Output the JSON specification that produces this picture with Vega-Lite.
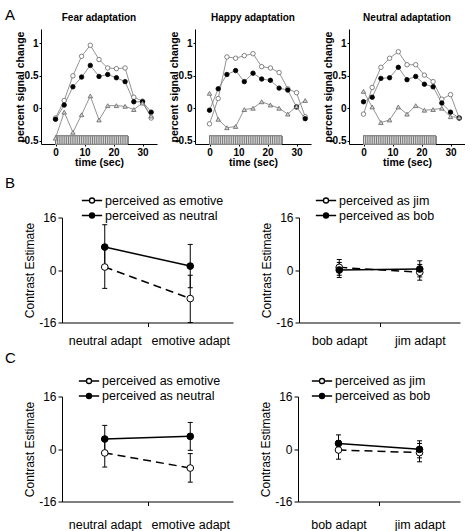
{
  "$schema": "https://vega.github.io/schema/vega-lite/v6.json",
  "padding": {"left": 5, "top": 8, "right": 0, "bottom": 0},
  "background": "white",
  "spacing": 7.5,
  "config": {
    "view": {"stroke": null},
    "font": "Liberation Sans",
    "axis": {"grid": false, "domainColor": "black", "tickColor": "black", "labelColor": "black", "titleColor": "black", "labelOverlap": false, "labelFlush": false},
    "legend": {"padding": 0},
    "title": {"color": "black"}
  },
  "resolve": {"scale": {"x": "independent", "y": "independent", "fill": "independent", "shape": "independent", "stroke": "independent"}, "legend": {"fill": "independent"}},
  "datasets": {
    "ts": [
      {"p": "Fear", "s": "open", "t": 0, "v": -0.15}, {"p": "Fear", "s": "open", "t": 3, "v": 0.12}, {"p": "Fear", "s": "open", "t": 6, "v": 0.5}, {"p": "Fear", "s": "open", "t": 9, "v": 0.8}, {"p": "Fear", "s": "open", "t": 12, "v": 0.97}, {"p": "Fear", "s": "open", "t": 15, "v": 0.75}, {"p": "Fear", "s": "open", "t": 18, "v": 0.62}, {"p": "Fear", "s": "open", "t": 21, "v": 0.61}, {"p": "Fear", "s": "open", "t": 24, "v": 0.62}, {"p": "Fear", "s": "open", "t": 27, "v": 0.17}, {"p": "Fear", "s": "open", "t": 30, "v": 0.11}, {"p": "Fear", "s": "open", "t": 33, "v": -0.15},
      {"p": "Fear", "s": "filled", "t": 0, "v": -0.17}, {"p": "Fear", "s": "filled", "t": 3, "v": 0.05}, {"p": "Fear", "s": "filled", "t": 6, "v": 0.33}, {"p": "Fear", "s": "filled", "t": 9, "v": 0.48}, {"p": "Fear", "s": "filled", "t": 12, "v": 0.66}, {"p": "Fear", "s": "filled", "t": 15, "v": 0.49}, {"p": "Fear", "s": "filled", "t": 18, "v": 0.52}, {"p": "Fear", "s": "filled", "t": 21, "v": 0.47}, {"p": "Fear", "s": "filled", "t": 24, "v": 0.41}, {"p": "Fear", "s": "filled", "t": 27, "v": 0.1}, {"p": "Fear", "s": "filled", "t": 30, "v": 0.1}, {"p": "Fear", "s": "filled", "t": 33, "v": -0.06},
      {"p": "Fear", "s": "tri", "t": 0, "v": -0.46}, {"p": "Fear", "s": "tri", "t": 3, "v": -0.06}, {"p": "Fear", "s": "tri", "t": 6, "v": -0.37}, {"p": "Fear", "s": "tri", "t": 9, "v": -0.1}, {"p": "Fear", "s": "tri", "t": 12, "v": 0.19}, {"p": "Fear", "s": "tri", "t": 15, "v": -0.18}, {"p": "Fear", "s": "tri", "t": 18, "v": 0.04}, {"p": "Fear", "s": "tri", "t": 21, "v": 0.04}, {"p": "Fear", "s": "tri", "t": 24, "v": 0.03}, {"p": "Fear", "s": "tri", "t": 27, "v": -0.02}, {"p": "Fear", "s": "tri", "t": 30, "v": 0.08}, {"p": "Fear", "s": "tri", "t": 33, "v": -0.12},
      {"p": "Happy", "s": "open", "t": 0, "v": -0.24}, {"p": "Happy", "s": "open", "t": 3, "v": 0.15}, {"p": "Happy", "s": "open", "t": 6, "v": 0.79}, {"p": "Happy", "s": "open", "t": 9, "v": 0.77}, {"p": "Happy", "s": "open", "t": 12, "v": 0.81}, {"p": "Happy", "s": "open", "t": 15, "v": 0.84}, {"p": "Happy", "s": "open", "t": 18, "v": 0.64}, {"p": "Happy", "s": "open", "t": 21, "v": 0.62}, {"p": "Happy", "s": "open", "t": 24, "v": 0.55}, {"p": "Happy", "s": "open", "t": 27, "v": 0.3}, {"p": "Happy", "s": "open", "t": 30, "v": 0.24}, {"p": "Happy", "s": "open", "t": 33, "v": -0.13},
      {"p": "Happy", "s": "filled", "t": 0, "v": -0.03}, {"p": "Happy", "s": "filled", "t": 3, "v": 0.3}, {"p": "Happy", "s": "filled", "t": 6, "v": 0.52}, {"p": "Happy", "s": "filled", "t": 9, "v": 0.58}, {"p": "Happy", "s": "filled", "t": 12, "v": 0.41}, {"p": "Happy", "s": "filled", "t": 15, "v": 0.54}, {"p": "Happy", "s": "filled", "t": 18, "v": 0.45}, {"p": "Happy", "s": "filled", "t": 21, "v": 0.43}, {"p": "Happy", "s": "filled", "t": 24, "v": 0.31}, {"p": "Happy", "s": "filled", "t": 27, "v": 0.28}, {"p": "Happy", "s": "filled", "t": 30, "v": 0.02}, {"p": "Happy", "s": "filled", "t": 33, "v": -0.16},
      {"p": "Happy", "s": "tri", "t": 0, "v": 0.23}, {"p": "Happy", "s": "tri", "t": 3, "v": -0.17}, {"p": "Happy", "s": "tri", "t": 6, "v": -0.3}, {"p": "Happy", "s": "tri", "t": 9, "v": -0.28}, {"p": "Happy", "s": "tri", "t": 12, "v": -0.02}, {"p": "Happy", "s": "tri", "t": 15, "v": 0.0}, {"p": "Happy", "s": "tri", "t": 18, "v": 0.1}, {"p": "Happy", "s": "tri", "t": 21, "v": 0.05}, {"p": "Happy", "s": "tri", "t": 24, "v": 0.0}, {"p": "Happy", "s": "tri", "t": 27, "v": -0.09}, {"p": "Happy", "s": "tri", "t": 30, "v": 0.03}, {"p": "Happy", "s": "tri", "t": 33, "v": 0.12},
      {"p": "Neutral", "s": "open", "t": 0, "v": -0.09}, {"p": "Neutral", "s": "open", "t": 3, "v": 0.32}, {"p": "Neutral", "s": "open", "t": 6, "v": 0.63}, {"p": "Neutral", "s": "open", "t": 9, "v": 0.77}, {"p": "Neutral", "s": "open", "t": 12, "v": 0.87}, {"p": "Neutral", "s": "open", "t": 15, "v": 0.67}, {"p": "Neutral", "s": "open", "t": 18, "v": 0.67}, {"p": "Neutral", "s": "open", "t": 21, "v": 0.51}, {"p": "Neutral", "s": "open", "t": 24, "v": 0.41}, {"p": "Neutral", "s": "open", "t": 27, "v": 0.14}, {"p": "Neutral", "s": "open", "t": 30, "v": 0.21}, {"p": "Neutral", "s": "open", "t": 33, "v": -0.15},
      {"p": "Neutral", "s": "filled", "t": 0, "v": 0.1}, {"p": "Neutral", "s": "filled", "t": 3, "v": 0.17}, {"p": "Neutral", "s": "filled", "t": 6, "v": 0.46}, {"p": "Neutral", "s": "filled", "t": 9, "v": 0.47}, {"p": "Neutral", "s": "filled", "t": 12, "v": 0.63}, {"p": "Neutral", "s": "filled", "t": 15, "v": 0.44}, {"p": "Neutral", "s": "filled", "t": 18, "v": 0.49}, {"p": "Neutral", "s": "filled", "t": 21, "v": 0.37}, {"p": "Neutral", "s": "filled", "t": 24, "v": 0.33}, {"p": "Neutral", "s": "filled", "t": 27, "v": 0.08}, {"p": "Neutral", "s": "filled", "t": 30, "v": -0.06}, {"p": "Neutral", "s": "filled", "t": 33, "v": -0.15},
      {"p": "Neutral", "s": "tri", "t": 0, "v": 0.26}, {"p": "Neutral", "s": "tri", "t": 3, "v": 0.02}, {"p": "Neutral", "s": "tri", "t": 6, "v": -0.22}, {"p": "Neutral", "s": "tri", "t": 9, "v": -0.18}, {"p": "Neutral", "s": "tri", "t": 12, "v": 0.02}, {"p": "Neutral", "s": "tri", "t": 15, "v": -0.09}, {"p": "Neutral", "s": "tri", "t": 18, "v": 0.04}, {"p": "Neutral", "s": "tri", "t": 21, "v": -0.03}, {"p": "Neutral", "s": "tri", "t": 24, "v": -0.02}, {"p": "Neutral", "s": "tri", "t": 27, "v": 0.0}, {"p": "Neutral", "s": "tri", "t": 30, "v": -0.13}, {"p": "Neutral", "s": "tri", "t": 33, "v": -0.14}
    ],
    "stim": [
      {"t": 0}, {"t": 0.75}, {"t": 1.5}, {"t": 2.25}, {"t": 3}, {"t": 3.75}, {"t": 4.5}, {"t": 5.25}, {"t": 6}, {"t": 6.75}, {"t": 7.5}, {"t": 8.25}, {"t": 9}, {"t": 9.75}, {"t": 10.5}, {"t": 11.25}, {"t": 12}, {"t": 12.75}, {"t": 13.5}, {"t": 14.25}, {"t": 15}, {"t": 15.75}, {"t": 16.5}, {"t": 17.25}, {"t": 18}, {"t": 18.75}, {"t": 19.5}, {"t": 20.25}, {"t": 21}, {"t": 21.75}, {"t": 22.5}, {"t": 23.25}, {"t": 24}, {"t": 24.75}
    ],
    "con": [
      {"p": "B1", "c": 1, "s": "perceived as emotive", "v": 0.9, "lo": -5.6, "hi": 7.4},
      {"p": "B1", "c": 2, "s": "perceived as emotive", "v": -8.7, "lo": -16, "hi": -1.6},
      {"p": "B1", "c": 1, "s": "perceived as neutral", "v": 7.0, "lo": 0.2, "hi": 13.8},
      {"p": "B1", "c": 2, "s": "perceived as neutral", "v": 1.2, "lo": -5.4, "hi": 7.8},
      {"p": "B2", "c": 1, "s": "perceived as jim", "v": 0.8, "lo": -1.6, "hi": 3.2},
      {"p": "B2", "c": 2, "s": "perceived as jim", "v": -0.7, "lo": -3.1, "hi": 1.7},
      {"p": "B2", "c": 1, "s": "perceived as bob", "v": 0.0, "lo": -2.3, "hi": 2.3},
      {"p": "B2", "c": 2, "s": "perceived as bob", "v": 0.3, "lo": -2.1, "hi": 2.8},
      {"p": "C1", "c": 1, "s": "perceived as emotive", "v": -1.2, "lo": -5.5, "hi": 3.1},
      {"p": "C1", "c": 2, "s": "perceived as emotive", "v": -5.8, "lo": -10.1, "hi": -1.4},
      {"p": "C1", "c": 1, "s": "perceived as neutral", "v": 3.05, "lo": -1.1, "hi": 7.2},
      {"p": "C1", "c": 2, "s": "perceived as neutral", "v": 3.85, "lo": -0.4, "hi": 8.1},
      {"p": "C2", "c": 1, "s": "perceived as jim", "v": -0.3, "lo": -3.1, "hi": 2.5},
      {"p": "C2", "c": 2, "s": "perceived as jim", "v": -1.1, "lo": -3.9, "hi": 1.7},
      {"p": "C2", "c": 1, "s": "perceived as bob", "v": 1.7, "lo": -0.9, "hi": 4.3},
      {"p": "C2", "c": 2, "s": "perceived as bob", "v": -0.1, "lo": -2.7, "hi": 2.5}
    ]
  },
  "vconcat": [
    {
      "title": {"text": "A", "anchor": "start", "frame": "group", "fontSize": 15, "fontWeight": "normal", "offset": -10, "dx": 0},
      "spacing": 0,
      "resolve": {"scale": {"x": "independent", "y": "independent", "fill": "independent", "shape": "independent", "stroke": "independent"}},
      "hconcat": [
        {"width": 10, "height": 1, "view": {"fill": "white", "stroke": null}, "data": {"values": []}, "mark": "point"},
        {
          "spacing": 12,
          "resolve": {"scale": {"x": "independent", "y": "independent", "fill": "independent", "shape": "independent", "stroke": "independent"}},
          "hconcat": [
            {
              "width": 116, "height": 115,
              "title": {"text": "Fear adaptation", "fontSize": 10, "fontWeight": "bold", "offset": 6},
              "resolve": {"axis": {"x": "independent", "y": "independent"}},
              "layer": [
                {"data": {"name": "stim"}, "mark": {"type": "rect", "fill": "#d8d8d8", "stroke": "#888", "strokeWidth": 0.5},
                 "encoding": {"x": {"datum": 0, "type": "quantitative", "scale": {"domain": [-5, 35], "nice": false}, "axis": null}, "x2": {"datum": 25},
                   "y": {"datum": -0.55, "type": "quantitative", "scale": {"domain": [-0.55, 1.22], "nice": false}, "axis": null}, "y2": {"datum": -0.43}}},
                {"data": {"name": "stim"}, "mark": {"type": "rule", "color": "#777", "strokeWidth": 1},
                 "encoding": {"x": {"field": "t", "type": "quantitative", "axis": null}, "y": {"datum": -0.55, "type": "quantitative", "axis": null}, "y2": {"datum": -0.43}}},
                {"data": {"name": "ts"}, "transform": [{"filter": "datum.p == 'Fear'"}],
                 "encoding": {
                   "x": {"field": "t", "type": "quantitative", "axis": {"values": [0, 10, 20, 30], "title": "time (sec)", "labelFontWeight": "bold", "labelFontSize": 10, "titleFontSize": 10.5, "titleFontWeight": "bold", "tickSize": 2, "labelPadding": 1, "titlePadding": 0}},
                   "y": {"field": "v", "type": "quantitative", "axis": {"values": [-0.5, 0, 0.5, 1], "labelExpr": "datum.value == 1 ? '1' : datum.value == 0.5 ? '0.5' : datum.value == 0 ? '0' : '-0.5'", "title": "percent signal change", "labelFontWeight": "bold", "labelFontSize": 10, "titleFontSize": 10.5, "titleFontWeight": "bold", "tickSize": 2, "labelPadding": 1, "titlePadding": 0, "minExtent": 16, "maxExtent": 16}}},
                 "layer": [
                   {"mark": {"type": "line", "color": "#777", "strokeWidth": 0.8}, "encoding": {"detail": {"field": "s"}}},
                   {"mark": {"type": "point", "filled": true, "size": 20, "strokeWidth": 0.8, "opacity": 1},
                    "encoding": {
                      "shape": {"field": "s", "scale": {"domain": ["open", "filled", "tri"], "range": ["circle", "circle", "triangle-up"]}, "legend": null},
                      "fill": {"field": "s", "scale": {"domain": ["open", "filled", "tri"], "range": ["white", "black", "#d0d0d0"]}, "legend": null},
                      "stroke": {"field": "s", "scale": {"domain": ["open", "filled", "tri"], "range": ["#666", "black", "#666"]}, "legend": null}}}
                 ]}
              ]
            },
            {
              "width": 116, "height": 115,
              "title": {"text": "Happy adaptation", "fontSize": 10, "fontWeight": "bold", "offset": 6},
              "resolve": {"axis": {"x": "independent", "y": "independent"}},
              "layer": [
                {"data": {"name": "stim"}, "mark": {"type": "rect", "fill": "#d8d8d8", "stroke": "#888", "strokeWidth": 0.5},
                 "encoding": {"x": {"datum": 0, "type": "quantitative", "scale": {"domain": [-5, 35], "nice": false}, "axis": null}, "x2": {"datum": 25},
                   "y": {"datum": -0.55, "type": "quantitative", "scale": {"domain": [-0.55, 1.22], "nice": false}, "axis": null}, "y2": {"datum": -0.43}}},
                {"data": {"name": "stim"}, "mark": {"type": "rule", "color": "#777", "strokeWidth": 1},
                 "encoding": {"x": {"field": "t", "type": "quantitative", "axis": null}, "y": {"datum": -0.55, "type": "quantitative", "axis": null}, "y2": {"datum": -0.43}}},
                {"data": {"name": "ts"}, "transform": [{"filter": "datum.p == 'Happy'"}],
                 "encoding": {
                   "x": {"field": "t", "type": "quantitative", "axis": {"values": [0, 10, 20, 30], "title": "time (sec)", "labelFontWeight": "bold", "labelFontSize": 10, "titleFontSize": 10.5, "titleFontWeight": "bold", "tickSize": 2, "labelPadding": 1, "titlePadding": 0}},
                   "y": {"field": "v", "type": "quantitative", "axis": {"values": [-0.5, 0, 0.5, 1], "labelExpr": "datum.value == 1 ? '1' : datum.value == 0.5 ? '0.5' : datum.value == 0 ? '0' : '-0.5'", "title": "percent signal change", "labelFontWeight": "bold", "labelFontSize": 10, "titleFontSize": 10.5, "titleFontWeight": "bold", "tickSize": 2, "labelPadding": 1, "titlePadding": 0, "minExtent": 16, "maxExtent": 16}}},
                 "layer": [
                   {"mark": {"type": "line", "color": "#777", "strokeWidth": 0.8}, "encoding": {"detail": {"field": "s"}}},
                   {"mark": {"type": "point", "filled": true, "size": 20, "strokeWidth": 0.8, "opacity": 1},
                    "encoding": {
                      "shape": {"field": "s", "scale": {"domain": ["open", "filled", "tri"], "range": ["circle", "circle", "triangle-up"]}, "legend": null},
                      "fill": {"field": "s", "scale": {"domain": ["open", "filled", "tri"], "range": ["white", "black", "#d0d0d0"]}, "legend": null},
                      "stroke": {"field": "s", "scale": {"domain": ["open", "filled", "tri"], "range": ["#666", "black", "#666"]}, "legend": null}}}
                 ]}
              ]
            },
            {
              "width": 116, "height": 115,
              "title": {"text": "Neutral adaptation", "fontSize": 10, "fontWeight": "bold", "offset": 6},
              "resolve": {"axis": {"x": "independent", "y": "independent"}},
              "layer": [
                {"data": {"name": "stim"}, "mark": {"type": "rect", "fill": "#d8d8d8", "stroke": "#888", "strokeWidth": 0.5},
                 "encoding": {"x": {"datum": 0, "type": "quantitative", "scale": {"domain": [-5, 35], "nice": false}, "axis": null}, "x2": {"datum": 25},
                   "y": {"datum": -0.55, "type": "quantitative", "scale": {"domain": [-0.55, 1.22], "nice": false}, "axis": null}, "y2": {"datum": -0.43}}},
                {"data": {"name": "stim"}, "mark": {"type": "rule", "color": "#777", "strokeWidth": 1},
                 "encoding": {"x": {"field": "t", "type": "quantitative", "axis": null}, "y": {"datum": -0.55, "type": "quantitative", "axis": null}, "y2": {"datum": -0.43}}},
                {"data": {"name": "ts"}, "transform": [{"filter": "datum.p == 'Neutral'"}],
                 "encoding": {
                   "x": {"field": "t", "type": "quantitative", "axis": {"values": [0, 10, 20, 30], "title": "time (sec)", "labelFontWeight": "bold", "labelFontSize": 10, "titleFontSize": 10.5, "titleFontWeight": "bold", "tickSize": 2, "labelPadding": 1, "titlePadding": 0}},
                   "y": {"field": "v", "type": "quantitative", "axis": {"values": [-0.5, 0, 0.5, 1], "labelExpr": "datum.value == 1 ? '1' : datum.value == 0.5 ? '0.5' : datum.value == 0 ? '0' : '-0.5'", "title": "percent signal change", "labelFontWeight": "bold", "labelFontSize": 10, "titleFontSize": 10.5, "titleFontWeight": "bold", "tickSize": 2, "labelPadding": 1, "titlePadding": 0, "minExtent": 16, "maxExtent": 16}}},
                 "layer": [
                   {"mark": {"type": "line", "color": "#777", "strokeWidth": 0.8}, "encoding": {"detail": {"field": "s"}}},
                   {"mark": {"type": "point", "filled": true, "size": 20, "strokeWidth": 0.8, "opacity": 1},
                    "encoding": {
                      "shape": {"field": "s", "scale": {"domain": ["open", "filled", "tri"], "range": ["circle", "circle", "triangle-up"]}, "legend": null},
                      "fill": {"field": "s", "scale": {"domain": ["open", "filled", "tri"], "range": ["white", "black", "#d0d0d0"]}, "legend": null},
                      "stroke": {"field": "s", "scale": {"domain": ["open", "filled", "tri"], "range": ["#666", "black", "#666"]}, "legend": null}}}
                 ]}
              ]
            }
          ]
        }
      ]
    },
    {
      "spacing": 3,
      "resolve": {"scale": {"x": "independent", "y": "independent", "fill": "independent"}, "legend": {"fill": "independent"}},
      "vconcat": [
        {
          "title": {"text": "B", "anchor": "start", "frame": "group", "fontSize": 15, "fontWeight": "normal", "offset": 2, "dx": 0},
          "spacing": 0,
          "resolve": {"scale": {"x": "independent", "y": "independent", "fill": "independent"}, "legend": {"fill": "independent"}},
          "hconcat": [
            {"width": 18, "height": 1, "view": {"fill": "white", "stroke": null}, "data": {"values": []}, "mark": "point"},
            {
              "spacing": 27,
              "resolve": {"scale": {"x": "independent", "y": "independent", "fill": "independent"}, "legend": {"fill": "independent"}},
              "hconcat": [
                {
                  "width": 171, "height": 105,
                  "data": {"name": "con"}, "transform": [{"filter": "datum.p == 'B1'"}],
                  "encoding": {
                    "x": {"field": "c", "type": "quantitative", "scale": {"domain": [0.5, 2.5], "nice": false},
                      "axis": {"values": [1, 1.5, 2], "labelExpr": "datum.value == 1 ? 'neutral adapt' : datum.value == 2 ? 'emotive adapt' : ''", "tickOpacity": {"condition": {"test": "datum.value == 1.5", "value": 1}, "value": 0}, "title": null, "labelFontSize": 12.5, "tickSize": 4, "labelPadding": 8}},
                    "y": {"field": "v", "type": "quantitative", "title": "Contrast Estimate", "scale": {"domain": [-16, 16], "nice": false},
                      "axis": {"values": [-16, 0, 16], "labelExpr": "datum.value == 16 ? '16' : datum.value == 0 ? '0' : '-16'", "titleFontSize": 12, "titleFontWeight": "normal", "labelFontSize": 12, "tickSize": 4, "labelPadding": 2, "titlePadding": 1, "minExtent": 25, "maxExtent": 25}}
                  },
                  "layer": [
                    {"mark": {"type": "rule", "color": "black", "strokeWidth": 1}, "encoding": {"y": {"field": "lo", "type": "quantitative", "title": "Contrast Estimate"}, "y2": {"field": "hi"}}},
                    {"mark": {"type": "tick", "orient": "horizontal", "size": 5, "thickness": 1, "color": "black", "opacity": 1}, "encoding": {"y": {"field": "lo", "type": "quantitative", "title": "Contrast Estimate"}}},
                    {"mark": {"type": "tick", "orient": "horizontal", "size": 5, "thickness": 1, "color": "black", "opacity": 1}, "encoding": {"y": {"field": "hi", "type": "quantitative", "title": "Contrast Estimate"}}},
                    {"transform": [{"filter": "datum.s == 'perceived as emotive'"}], "mark": {"type": "line", "color": "black", "strokeWidth": 1.5, "strokeDash": [8, 5]}},
                    {"transform": [{"filter": "datum.s == 'perceived as neutral'"}], "mark": {"type": "line", "color": "black", "strokeWidth": 1.5}},
                    {"mark": {"type": "point", "shape": "circle", "filled": true, "size": 45, "stroke": "black", "strokeWidth": 1, "opacity": 1},
                     "encoding": {"fill": {"field": "s", "type": "nominal", "scale": {"domain": ["perceived as emotive", "perceived as neutral"], "range": ["white", "black"]},
                       "legend": {"title": null, "orient": "none", "legendX": 22, "legendY": -25, "symbolType": "M-1.45,0H-0.36M0.36,0H1.45M0.36,0A0.36,0.36,0,1,1,-0.36,0A0.36,0.36,0,1,1,0.36,0Z", "symbolSize": 196, "symbolStrokeColor": "black", "symbolStrokeWidth": 1.3, "labelFontSize": 12.5, "labelColor": "black", "rowPadding": -3, "labelOffset": 5}}}}
                  ]
                },
                {
                  "width": 161, "height": 105,
                  "data": {"name": "con"}, "transform": [{"filter": "datum.p == 'B2'"}],
                  "encoding": {
                    "x": {"field": "c", "type": "quantitative", "scale": {"domain": [0.5, 2.5], "nice": false},
                      "axis": {"values": [1, 1.5, 2], "labelExpr": "datum.value == 1 ? 'bob adapt' : datum.value == 2 ? 'jim adapt' : ''", "tickOpacity": {"condition": {"test": "datum.value == 1.5", "value": 1}, "value": 0}, "title": null, "labelFontSize": 12.5, "tickSize": 4, "labelPadding": 8}},
                    "y": {"field": "v", "type": "quantitative", "title": "Contrast Estimate", "scale": {"domain": [-16, 16], "nice": false},
                      "axis": {"values": [-16, 0, 16], "labelExpr": "datum.value == 16 ? '16' : datum.value == 0 ? '0' : '-16'", "titleFontSize": 12, "titleFontWeight": "normal", "labelFontSize": 12, "tickSize": 4, "labelPadding": 2, "titlePadding": 1, "minExtent": 25, "maxExtent": 25}}
                  },
                  "layer": [
                    {"mark": {"type": "rule", "color": "black", "strokeWidth": 1}, "encoding": {"y": {"field": "lo", "type": "quantitative", "title": "Contrast Estimate"}, "y2": {"field": "hi"}}},
                    {"mark": {"type": "tick", "orient": "horizontal", "size": 5, "thickness": 1, "color": "black", "opacity": 1}, "encoding": {"y": {"field": "lo", "type": "quantitative", "title": "Contrast Estimate"}}},
                    {"mark": {"type": "tick", "orient": "horizontal", "size": 5, "thickness": 1, "color": "black", "opacity": 1}, "encoding": {"y": {"field": "hi", "type": "quantitative", "title": "Contrast Estimate"}}},
                    {"transform": [{"filter": "datum.s == 'perceived as jim'"}], "mark": {"type": "line", "color": "black", "strokeWidth": 1.5, "strokeDash": [8, 5]}},
                    {"transform": [{"filter": "datum.s == 'perceived as bob'"}], "mark": {"type": "line", "color": "black", "strokeWidth": 1.5}},
                    {"mark": {"type": "point", "shape": "circle", "filled": true, "size": 45, "stroke": "black", "strokeWidth": 1, "opacity": 1},
                     "encoding": {"fill": {"field": "s", "type": "nominal", "scale": {"domain": ["perceived as jim", "perceived as bob"], "range": ["white", "black"]},
                       "legend": {"title": null, "orient": "none", "legendX": 19, "legendY": -25, "symbolType": "M-1.45,0H-0.36M0.36,0H1.45M0.36,0A0.36,0.36,0,1,1,-0.36,0A0.36,0.36,0,1,1,0.36,0Z", "symbolSize": 196, "symbolStrokeColor": "black", "symbolStrokeWidth": 1.3, "labelFontSize": 12.5, "labelColor": "black", "rowPadding": -2, "labelOffset": 5}}}}
                  ]
                }
              ]
            }
          ]
        },
        {
          "title": {"text": "C", "anchor": "start", "frame": "group", "fontSize": 15, "fontWeight": "normal", "offset": 7.5, "dx": 0},
          "spacing": 0,
          "resolve": {"scale": {"x": "independent", "y": "independent", "fill": "independent"}, "legend": {"fill": "independent"}},
          "hconcat": [
            {"width": 18, "height": 1, "view": {"fill": "white", "stroke": null}, "data": {"values": []}, "mark": "point"},
            {
              "spacing": 26,
              "resolve": {"scale": {"x": "independent", "y": "independent", "fill": "independent"}, "legend": {"fill": "independent"}},
              "hconcat": [
                {
                  "width": 171, "height": 105,
                  "data": {"name": "con"}, "transform": [{"filter": "datum.p == 'C1'"}],
                  "encoding": {
                    "x": {"field": "c", "type": "quantitative", "scale": {"domain": [0.5, 2.5], "nice": false},
                      "axis": {"values": [1, 1.5, 2], "labelExpr": "datum.value == 1 ? 'neutral adapt' : datum.value == 2 ? 'emotive adapt' : ''", "tickOpacity": {"condition": {"test": "datum.value == 1.5", "value": 1}, "value": 0}, "title": null, "labelFontSize": 12.5, "tickSize": 4, "labelPadding": 13}},
                    "y": {"field": "v", "type": "quantitative", "title": "Contrast Estimate", "scale": {"domain": [-16, 16], "nice": false},
                      "axis": {"values": [-16, 0, 16], "labelExpr": "datum.value == 16 ? '16' : datum.value == 0 ? '0' : '-16'", "titleFontSize": 12, "titleFontWeight": "normal", "labelFontSize": 12, "tickSize": 4, "labelPadding": 2, "titlePadding": 1, "minExtent": 25, "maxExtent": 25}}
                  },
                  "layer": [
                    {"mark": {"type": "rule", "color": "black", "strokeWidth": 1}, "encoding": {"y": {"field": "lo", "type": "quantitative", "title": "Contrast Estimate"}, "y2": {"field": "hi"}}},
                    {"mark": {"type": "tick", "orient": "horizontal", "size": 5, "thickness": 1, "color": "black", "opacity": 1}, "encoding": {"y": {"field": "lo", "type": "quantitative", "title": "Contrast Estimate"}}},
                    {"mark": {"type": "tick", "orient": "horizontal", "size": 5, "thickness": 1, "color": "black", "opacity": 1}, "encoding": {"y": {"field": "hi", "type": "quantitative", "title": "Contrast Estimate"}}},
                    {"transform": [{"filter": "datum.s == 'perceived as emotive'"}], "mark": {"type": "line", "color": "black", "strokeWidth": 1.5, "strokeDash": [8, 5]}},
                    {"transform": [{"filter": "datum.s == 'perceived as neutral'"}], "mark": {"type": "line", "color": "black", "strokeWidth": 1.5}},
                    {"mark": {"type": "point", "shape": "circle", "filled": true, "size": 45, "stroke": "black", "strokeWidth": 1, "opacity": 1},
                     "encoding": {"fill": {"field": "s", "type": "nominal", "scale": {"domain": ["perceived as emotive", "perceived as neutral"], "range": ["white", "black"]},
                       "legend": {"title": null, "orient": "none", "legendX": 19, "legendY": -23.5, "symbolType": "M-1.45,0H-0.36M0.36,0H1.45M0.36,0A0.36,0.36,0,1,1,-0.36,0A0.36,0.36,0,1,1,0.36,0Z", "symbolSize": 196, "symbolStrokeColor": "black", "symbolStrokeWidth": 1.3, "labelFontSize": 12.5, "labelColor": "black", "rowPadding": -3, "labelOffset": 5}}}}
                  ]
                },
                {
                  "width": 162, "height": 105,
                  "data": {"name": "con"}, "transform": [{"filter": "datum.p == 'C2'"}],
                  "encoding": {
                    "x": {"field": "c", "type": "quantitative", "scale": {"domain": [0.5, 2.5], "nice": false},
                      "axis": {"values": [1, 1.5, 2], "labelExpr": "datum.value == 1 ? 'bob adapt' : datum.value == 2 ? 'jim adapt' : ''", "tickOpacity": {"condition": {"test": "datum.value == 1.5", "value": 1}, "value": 0}, "title": null, "labelFontSize": 12.5, "tickSize": 4, "labelPadding": 13}},
                    "y": {"field": "v", "type": "quantitative", "title": "Contrast Estimate", "scale": {"domain": [-16, 16], "nice": false},
                      "axis": {"values": [-16, 0, 16], "labelExpr": "datum.value == 16 ? '16' : datum.value == 0 ? '0' : '-16'", "titleFontSize": 12, "titleFontWeight": "normal", "labelFontSize": 12, "tickSize": 4, "labelPadding": 2, "titlePadding": 1, "minExtent": 25, "maxExtent": 25}}
                  },
                  "layer": [
                    {"mark": {"type": "rule", "color": "black", "strokeWidth": 1}, "encoding": {"y": {"field": "lo", "type": "quantitative", "title": "Contrast Estimate"}, "y2": {"field": "hi"}}},
                    {"mark": {"type": "tick", "orient": "horizontal", "size": 5, "thickness": 1, "color": "black", "opacity": 1}, "encoding": {"y": {"field": "lo", "type": "quantitative", "title": "Contrast Estimate"}}},
                    {"mark": {"type": "tick", "orient": "horizontal", "size": 5, "thickness": 1, "color": "black", "opacity": 1}, "encoding": {"y": {"field": "hi", "type": "quantitative", "title": "Contrast Estimate"}}},
                    {"transform": [{"filter": "datum.s == 'perceived as jim'"}], "mark": {"type": "line", "color": "black", "strokeWidth": 1.5, "strokeDash": [8, 5]}},
                    {"transform": [{"filter": "datum.s == 'perceived as bob'"}], "mark": {"type": "line", "color": "black", "strokeWidth": 1.5}},
                    {"mark": {"type": "point", "shape": "circle", "filled": true, "size": 45, "stroke": "black", "strokeWidth": 1, "opacity": 1},
                     "encoding": {"fill": {"field": "s", "type": "nominal", "scale": {"domain": ["perceived as jim", "perceived as bob"], "range": ["white", "black"]},
                       "legend": {"title": null, "orient": "none", "legendX": 16, "legendY": -23.5, "symbolType": "M-1.45,0H-0.36M0.36,0H1.45M0.36,0A0.36,0.36,0,1,1,-0.36,0A0.36,0.36,0,1,1,0.36,0Z", "symbolSize": 196, "symbolStrokeColor": "black", "symbolStrokeWidth": 1.3, "labelFontSize": 12.5, "labelColor": "black", "rowPadding": -3, "labelOffset": 5}}}}
                  ]
                }
              ]
            }
          ]
        }
      ]
    }
  ]
}
